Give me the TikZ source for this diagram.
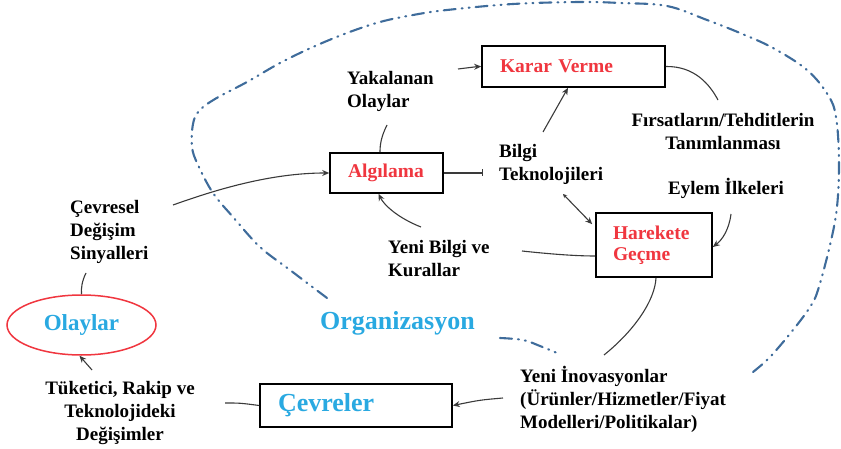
\documentclass[tikz,border=0pt]{standalone}
\usepackage{fontspec}
\setmainfont{Liberation Serif}
\usetikzlibrary{arrows.meta,shapes.geometric,calc}
\definecolor{redt}{HTML}{F0363F}
\definecolor{bluet}{HTML}{29A9E1}
\definecolor{bound}{HTML}{3F6C9B}
\definecolor{connc}{HTML}{3A3A3A}
\begin{document}
\begin{tikzpicture}[x=1pt,y=-1pt,
  box/.style={draw=black, line width=1.6pt, fill=white, inner ysep=0pt, align=left},
  boxtxt/.style={font=\bfseries\fontsize{19.5}{21}\selectfont, text=redt},
  lbl/.style={font=\bfseries\fontsize{19}{23}\selectfont, inner sep=0pt, text=black},
  conn/.style={draw=connc, line width=1.1pt},
  arr/.style={conn, -{Stealth[length=7pt,width=6pt]}},
  orgline/.style={draw=bound, line width=2.1pt, line cap=round,
    dash pattern=on 12pt off 6pt on 1pt off 6pt on 1pt off 6pt}
]
\useasboundingbox (0,0) rectangle (841,449);

% organisation boundary
\draw[orgline] plot[smooth, tension=0.6] coordinates {
 (753,372) (770,357) (793,330) (810,307) (818,290) (830,245) (837,207)
 (839,160) (836,117) (828,95) (807,70) (773,48) (740,33) (707,20) (667,6)
 (620,3) (580,2) (513,4) (447,10) (413,15) (380,22) (347,33) (313,47)
 (280,63) (247,82) (215,99) (199,111) (193,124) (192,147) (198,165)
 (213,193) (233,217) (260,247) (290,270) (327,298)};
\draw[orgline] plot[smooth, tension=0.6] coordinates {
 (500,338) (523,340) (540,346) (557,353)};

% boxes
\node[box, boxtxt, inner xsep=18pt, text width=147pt, minimum height=41pt] (karar) at (573.5,66.5) {Karar Verme};
\node[box, boxtxt, inner xsep=18pt, text width=77pt, minimum height=40pt] (alg) at (386.5,173) {Algılama};
\node[box, boxtxt, inner xsep=17pt, text width=82pt, minimum height=64pt] (har) at (654,245) {Harekete\\Geçme};
\node[box, font=\bfseries\fontsize{26}{28}\selectfont, text=bluet, inner xsep=18pt, text width=156pt, minimum height=43pt] (cev) at (356,405.5) {Çevreler};
\node[ellipse, draw=redt, line width=1.5pt, minimum width=149pt, minimum height=60pt, inner sep=0pt,
  font=\bfseries\fontsize{23}{25}\selectfont, text=bluet] (ola) at (81.5,325) {Olaylar};
\node[font=\bfseries\fontsize{26}{28}\selectfont, text=bluet, inner sep=0pt] (org) at (397.5,323) {Organizasyon};

% labels
\node[lbl, anchor=west, align=left] (yak) at (347,91) {Yakalanan\\Olaylar};
\node[lbl, anchor=west, align=left] (bil) at (499,164.5) {Bilgi\\Teknolojileri};
\node[lbl, align=center] (firs) at (723,132) {Fırsatların/Tehditlerin\\Tanımlanması};
\node[lbl, anchor=west] (eylem) at (668,188) {Eylem İlkeleri};
\node[lbl, anchor=west, align=left] (ybk) at (388,258.5) {Yeni Bilgi ve\\Kurallar};
\node[lbl, anchor=west, align=left] (cevs) at (70,231.5) {Çevresel\\Değişim\\Sinyalleri};
\node[lbl, align=center] (tuk) at (120,413.5) {Tüketici, Rakip ve\\Teknolojideki\\Değişimler};
\node[lbl, anchor=west, align=left] (yin) at (520,399) {Yeni İnovasyonlar\\(Ürünler/Hizmetler/Fiyat\\Modelleri/Politikalar)};

% free connector ends
\coordinate (yakA) at (458,69);
\coordinate (yakB) at (387,125);
\coordinate (firA) at (718,100);
\coordinate (bilA) at (543,132);
\coordinate (bilB) at (483,173);
\coordinate (bilC) at (563,194);
\coordinate (eylA) at (731,214);
\coordinate (ybkA) at (522,251);
\coordinate (ybkB) at (421,227);
\coordinate (yinA) at (604,355);
\coordinate (yinB) at (503,398);
\coordinate (tukA) at (225,403);
\coordinate (tukB) at (92,370);
\coordinate (cevA) at (86,273);
\coordinate (cevB) at (173,205);

% connectors
\draw[arr] (yakA) .. controls (468,67) .. (karar.west);
\draw[conn] (yakB) .. controls (381,137) and (380,145) .. ($(alg.north)+(-6.5,0)$);
\draw[conn] (karar.east) .. controls (695,66) and (710,85) .. (firA);
\draw[arr] (bilA) -- ($(karar.south)+(-5.5,0)$);
\draw[conn, -{Bar[width=7pt]}] (alg.east) -- (bilB);
\draw[conn, {Stealth[length=4pt,width=4pt]}-{Stealth[length=7pt,width=6pt]}] (bilC) -- ($(har.north west)+(-3,12)$);
\draw[arr] (eylA) .. controls (729,230) and (722,240) .. ($(har.east)+(0,2)$);
\draw[conn] (ybkA) .. controls (550,254) and (575,256) .. ($(har.west)+(0,11)$);
\draw[arr] (ybkB) .. controls (398,218) and (384,205) .. ($(alg.south)+(-8,0)$);
\draw[conn] ($(har.south)+(2,0)$) .. controls (655,300) and (635,330) .. (yinA);
\draw[arr] (yinB) .. controls (480,400) .. (cev.east);
\draw[conn] (tukA) .. controls (240,403) .. (cev.west);
\draw[arr] (tukB) -- ($(ola.south)+(-2,0)$);
\draw[conn] (cevA) .. controls (82,281) and (81,288) .. (ola.north);
\draw[arr] (cevB) .. controls (215,190) and (270,173) .. (alg.west);
\end{tikzpicture}
\end{document}
